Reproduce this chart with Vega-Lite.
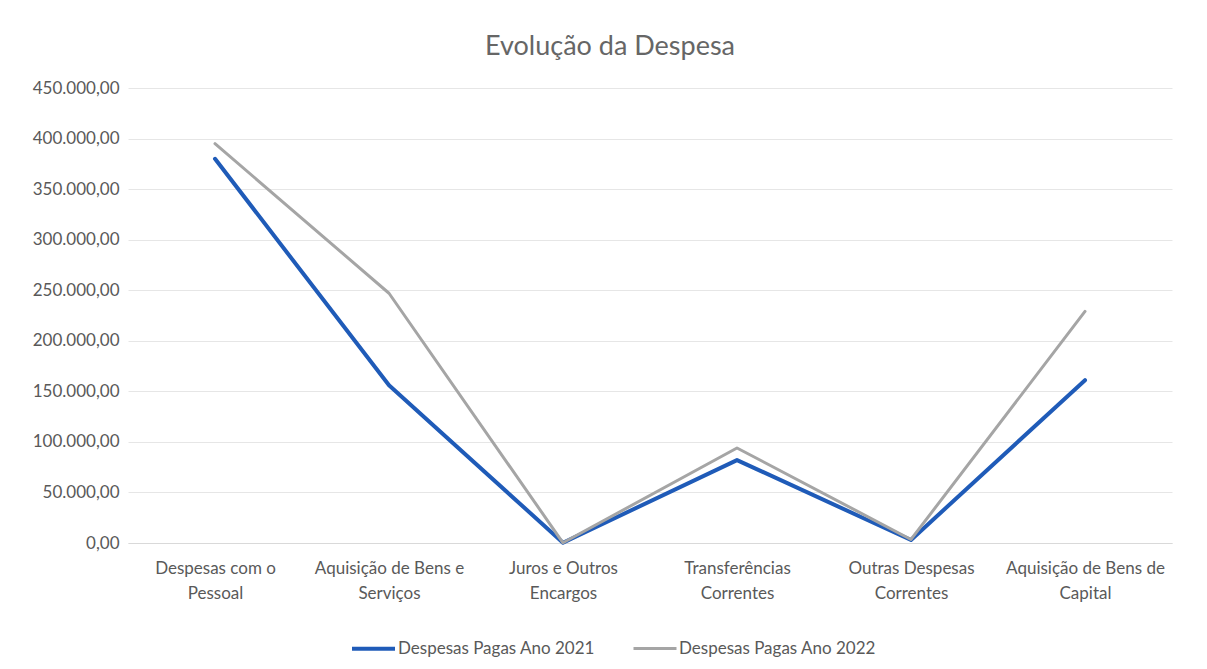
{
  "$schema": "https://vega.github.io/schema/vega-lite/v6.json",
  "width": 1044,
  "height": 455,
  "autosize": "none",
  "padding": {"left": 128, "top": 88, "right": 35, "bottom": 126},
  "background": "white",
  "config": {
    "locale": {"number": {"decimal": ",", "thousands": ".", "grouping": [3], "currency": ["", " €"]}},
    "font": "Lato",
    "view": {"stroke": null}
  },
  "title": {
    "text": "Evolução da Despesa",
    "fontSize": 27,
    "font": "Lato",
    "fontWeight": "normal",
    "color": "#666666",
    "anchor": "middle",
    "offset": 18,
    "dx": -40
  },
  "data": {
    "values": [
      {"categoria": "Despesas com o Pessoal", "ordem": 1, "serie": "Despesas Pagas Ano 2021", "valor": 380000},
      {"categoria": "Aquisição de Bens e Serviços", "ordem": 2, "serie": "Despesas Pagas Ano 2021", "valor": 156000},
      {"categoria": "Juros e Outros Encargos", "ordem": 3, "serie": "Despesas Pagas Ano 2021", "valor": 300},
      {"categoria": "Transferências Correntes", "ordem": 4, "serie": "Despesas Pagas Ano 2021", "valor": 82000},
      {"categoria": "Outras Despesas Correntes", "ordem": 5, "serie": "Despesas Pagas Ano 2021", "valor": 3000},
      {"categoria": "Aquisição de Bens de Capital", "ordem": 6, "serie": "Despesas Pagas Ano 2021", "valor": 161000},
      {"categoria": "Despesas com o Pessoal", "ordem": 1, "serie": "Despesas Pagas Ano 2022", "valor": 395000},
      {"categoria": "Aquisição de Bens e Serviços", "ordem": 2, "serie": "Despesas Pagas Ano 2022", "valor": 247000},
      {"categoria": "Juros e Outros Encargos", "ordem": 3, "serie": "Despesas Pagas Ano 2022", "valor": 200},
      {"categoria": "Transferências Correntes", "ordem": 4, "serie": "Despesas Pagas Ano 2022", "valor": 94000},
      {"categoria": "Outras Despesas Correntes", "ordem": 5, "serie": "Despesas Pagas Ano 2022", "valor": 3500},
      {"categoria": "Aquisição de Bens de Capital", "ordem": 6, "serie": "Despesas Pagas Ano 2022", "valor": 229000}
    ]
  },
  "mark": {"type": "line", "strokeCap": "round", "strokeJoin": "round"},
  "encoding": {
    "x": {
      "field": "categoria",
      "type": "nominal",
      "sort": {"field": "ordem"},
      "scale": {"paddingInner": 0, "paddingOuter": 0.5},
      "axis": {
        "title": null,
        "labelAngle": 0,
        "labelFont": "Lato",
        "labelFontSize": 17,
        "labelColor": "#595959",
        "labelPadding": 17,
        "labelLineHeight": 25,
        "labelLimit": 300,
        "ticks": false,
        "domain": true,
        "domainColor": "#D9D9D9",
        "labelExpr": "datum.label == 'Despesas com o Pessoal' ? ['Despesas com o', 'Pessoal'] : datum.label == 'Aquisição de Bens e Serviços' ? ['Aquisição de Bens e', 'Serviços'] : datum.label == 'Juros e Outros Encargos' ? ['Juros e Outros', 'Encargos'] : datum.label == 'Transferências Correntes' ? ['Transferências', 'Correntes'] : datum.label == 'Outras Despesas Correntes' ? ['Outras Despesas', 'Correntes'] : ['Aquisição de Bens de', 'Capital']"
      }
    },
    "y": {
      "field": "valor",
      "type": "quantitative",
      "scale": {"domain": [0, 450000], "nice": false},
      "axis": {
        "title": null,
        "format": ",.2f",
        "values": [0, 50000, 100000, 150000, 200000, 250000, 300000, 350000, 400000, 450000],
        "labelOverlap": false,
        "labelFont": "Lato",
        "labelFontSize": 17,
        "labelColor": "#595959",
        "labelPadding": 9,
        "ticks": false,
        "domain": false,
        "grid": true,
        "gridColor": "#E6E6E6",
        "gridWidth": 1
      }
    },
    "color": {
      "field": "serie",
      "type": "nominal",
      "scale": {"range": ["#1F5BB8", "#A5A5A5"]},
      "legend": {
        "title": null,
        "orient": "none",
        "legendX": 222,
        "legendY": 537,
        "direction": "horizontal",
        "labelFont": "Lato",
        "labelFontSize": 17,
        "labelColor": "#595959",
        "labelLimit": 400,
        "symbolType": "stroke",
        "symbolSize": 1849,
        "labelOffset": 1,
        "columnPadding": 32,
        "padding": 0
      }
    },
    "strokeWidth": {
      "field": "serie",
      "type": "nominal",
      "scale": {"range": [4, 3]},
      "legend": null
    }
  }
}
